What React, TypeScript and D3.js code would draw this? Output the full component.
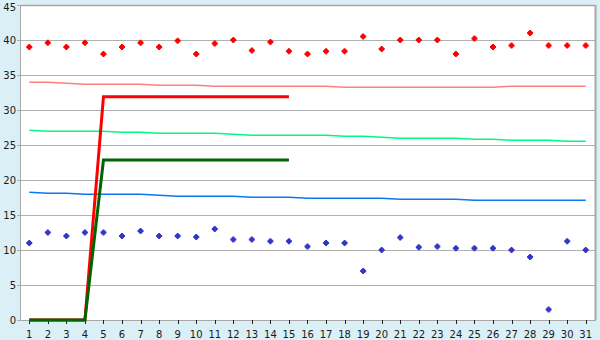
import React from "react";
import * as d3 from "d3";

const categories = Array.from({ length: 31 }, (_, i) => String(i + 1));
const yTicks = [0, 5, 10, 15, 20, 25, 30, 35, 40, 45];

const redPoints = [39, 39.6, 39, 39.6, 38, 39, 39.6, 39, 39.9, 38, 39.5, 40, 38.5, 39.7, 38.4, 38, 38.4, 38.4, 40.5, 38.7, 40, 40, 40, 38, 40.2, 39, 39.2, 41, 39.2, 39.2, 39.2];
const bluePoints = [11, 12.5, 12, 12.5, 12.5, 12, 12.7, 12, 12, 11.85, 13, 11.5, 11.5, 11.25, 11.25, 10.5, 11, 11, 7, 10, 11.8, 10.4, 10.5, 10.25, 10.25, 10.25, 10, 9, 1.5, 11.25, 10];
const pinkLine = [33.96, 33.96, 33.81, 33.67, 33.67, 33.67, 33.67, 33.53, 33.53, 33.53, 33.39, 33.39, 33.39, 33.39, 33.39, 33.39, 33.39, 33.24, 33.24, 33.24, 33.24, 33.24, 33.24, 33.24, 33.24, 33.24, 33.39, 33.39, 33.39, 33.39, 33.39];
const lightGreenLine = [27.1, 26.96, 26.96, 26.96, 26.96, 26.81, 26.81, 26.67, 26.67, 26.67, 26.67, 26.53, 26.39, 26.39, 26.39, 26.39, 26.39, 26.24, 26.24, 26.1, 25.96, 25.96, 25.96, 25.96, 25.81, 25.81, 25.67, 25.67, 25.67, 25.53, 25.53];
const blueLine = [18.24, 18.1, 18.1, 17.96, 17.96, 17.96, 17.96, 17.81, 17.67, 17.67, 17.67, 17.67, 17.53, 17.53, 17.53, 17.39, 17.39, 17.39, 17.39, 17.39, 17.24, 17.24, 17.24, 17.24, 17.1, 17.1, 17.1, 17.1, 17.1, 17.1, 17.1];
const redThick = [0, 0, 0, 0, 31.9, 31.9, 31.9, 31.9, 31.9, 31.9, 31.9, 31.9, 31.9, 31.9, 31.9];
const greenThick = [0, 0, 0, 0, 22.85, 22.85, 22.85, 22.85, 22.85, 22.85, 22.85, 22.85, 22.85, 22.85, 22.85];

const W = 600, H = 340;
const L = 20, R = 595, T = 5, B = 320;

export default function App() {
  const x = d3.scaleBand<string>().domain(categories).range([L, R]);
  const cx = (i: number) => (x(categories[i]) as number) + x.bandwidth() / 2;
  const y = d3.scaleLinear().domain([0, 45]).range([B, T]);
  const line = d3.line<number>().x((_, i) => cx(i)).y((d) => y(d));
  const marker = "M-1,-3H1V-2H2V-1H3V1H2V2H1V3H-1V2H-2V1H-3V-1H-2V-2H-1Z";
  const font = "DejaVu Sans, Verdana, sans-serif";
  return (
    <svg width={W} height={H} style={{ position: "absolute", left: 0, top: 0 }} fontFamily={font}>
      <rect x={0} y={0} width={W} height={H} fill="#daeff6" />
      <rect x={L} y={T} width={R - L} height={B - T} fill="#ffffff" />
      {yTicks.map((t) => (
        <g key={t}>
          <line x1={L - 3} x2={R} y1={Math.round(y(t)) + 0.5} y2={Math.round(y(t)) + 0.5} stroke="#b0b0b0" strokeWidth={1} />
          <text x={16} y={Math.max(y(t), 7)} dy="0.36em" textAnchor="end" fontSize={10} fill="#1a1a1a">{t}</text>
        </g>
      ))}
      <line x1={L + 0.5} x2={L + 0.5} y1={T} y2={B} stroke="#a8a8a8" strokeWidth={1} />
      <line x1={L} x2={R} y1={T + 0.5} y2={T + 0.5} stroke="#a8a8a8" strokeWidth={1.5} />
      <line x1={R + 0.5} x2={R + 0.5} y1={T} y2={B} stroke="#a8a8a8" strokeWidth={2} />
      <line x1={L} x2={R + 1} y1={B + 0.5} y2={B + 0.5} stroke="#a8a8a8" strokeWidth={1} />
      {categories.map((c, i) => (
        <g key={c}>
          <line x1={Math.round(cx(i)) + 0.5} x2={Math.round(cx(i)) + 0.5} y1={B} y2={B + 4} stroke="#202020" strokeWidth={1} />
          <text x={cx(i)} y={338} textAnchor="middle" fontSize={10} fill="#1a1a1a">{c}</text>
        </g>
      ))}
      <path d={line(pinkLine) || ""} fill="none" stroke="#ff8080" strokeWidth={1.5} />
      <path d={line(lightGreenLine) || ""} fill="none" stroke="#00f880" strokeWidth={1.5} />
      <path d={line(blueLine) || ""} fill="none" stroke="#0a78f0" strokeWidth={1.5} />
      <path d={line(redThick) || ""} fill="none" stroke="#ff0000" strokeWidth={3} />
      <path d={line(greenThick) || ""} fill="none" stroke="#006400" strokeWidth={3} />
      {redPoints.map((v, i) => (
        <path key={"r" + i} d={marker} transform={`translate(${cx(i)},${y(v)})`} fill="#ff0000" />
      ))}
      {bluePoints.map((v, i) => (
        <path key={"b" + i} d={marker} transform={`translate(${cx(i)},${y(v)})`} fill="#3535c8" />
      ))}
    </svg>
  );
}
